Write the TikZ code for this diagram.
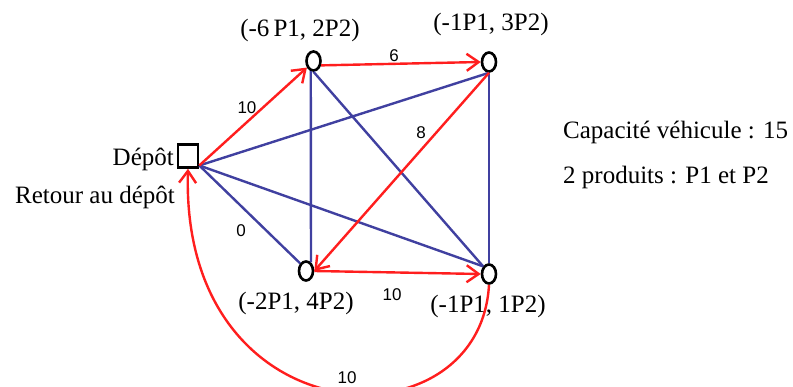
\documentclass[tikz,border=0pt]{standalone}
\usepackage{fontspec}
\setmainfont{Liberation Serif}
\newfontfamily\lsans{Liberation Sans}
\usetikzlibrary{arrows.meta,shapes.geometric}
\definecolor{routered}{RGB}{255,30,30}
\definecolor{linkblue}{RGB}{64,64,160}
\begin{document}
\begin{tikzpicture}[x=1pt,y=-1pt,
  txt/.style={font=\fontsize{25}{30}\selectfont, inner sep=0pt},
  elab/.style={font=\lsans\fontsize{17}{20}\selectfont, inner sep=0pt},
  client/.style={ellipse, draw=black, line width=2.6pt, minimum width=14pt, minimum height=19pt, inner sep=0pt},
  depotbox/.style={rectangle, draw=black, line width=2.6pt, minimum width=20pt, minimum height=23pt, inner sep=0pt},
  route/.style={draw=routered, line width=2.4pt, -{Straight Barb[length=12pt,width=17pt,line width=2.4pt]}},
  link/.style={draw=linkblue, line width=2.4pt},
]
\fill[white] (0,0) rectangle (793,387);
\useasboundingbox (0,0) rectangle (793,387);

% nodes
\node[depotbox] (depot) at (188,156) {};
\node[client] (A) at (313.5,61) {};
\node[client] (B) at (489,62) {};
\node[client] (C) at (306,271) {};
\node[client] (D) at (489,274) {};

% texts
\node[txt] (tA) at (300,30) {(-6\,P1, 2P2)};
\node[txt] (tB) at (491,24) {(-1P1, 3P2)};
\node[txt] (tC) at (296,303) {(-2P1, 4P2)};
\node[txt] (tD) at (488,306) {(-1P1, 1P2)};
\node[txt, anchor=east] (tdep) at (174,159) {Dépôt};
\node[txt] (tret) at (95,197) {Retour au dépôt};
\node[txt, anchor=west] (tcap) at (563,132) {Capacité véhicule : 15};
\node[txt, anchor=west] (tprod) at (563,177) {2 produits : P1 et P2};

% blue links
\draw[link] (depot.-40) -- (B.south);
\draw[link] (depot.-40) -- (D.north west);
\draw[link] (depot.-40) -- (C.north west);
\draw[link] (A.255) -- (C.60);
\draw[link] (A.south) -- (D.north west);
\draw[link] (B.south) -- (D.north);

% red route
\draw[route] (depot.-40) -- (A.225);
\draw[route] (A.-30) -- (B.west);
\draw[route] (B.south) -- (C.east);
\draw[route] (C.east) -- (D.west);
\draw[route] (D.south) .. controls (480,450) and (180,440) .. (depot.south);

% edge labels
\node[elab] (l1) at (247,108) {10};
\node[elab] (l2) at (394,56) {6};
\node[elab] (l3) at (421,133) {8};
\node[elab] (l4) at (241,231) {0};
\node[elab] (l5) at (392,295) {10};
\node[elab] (l6) at (347,378) {10};
\end{tikzpicture}
\end{document}
